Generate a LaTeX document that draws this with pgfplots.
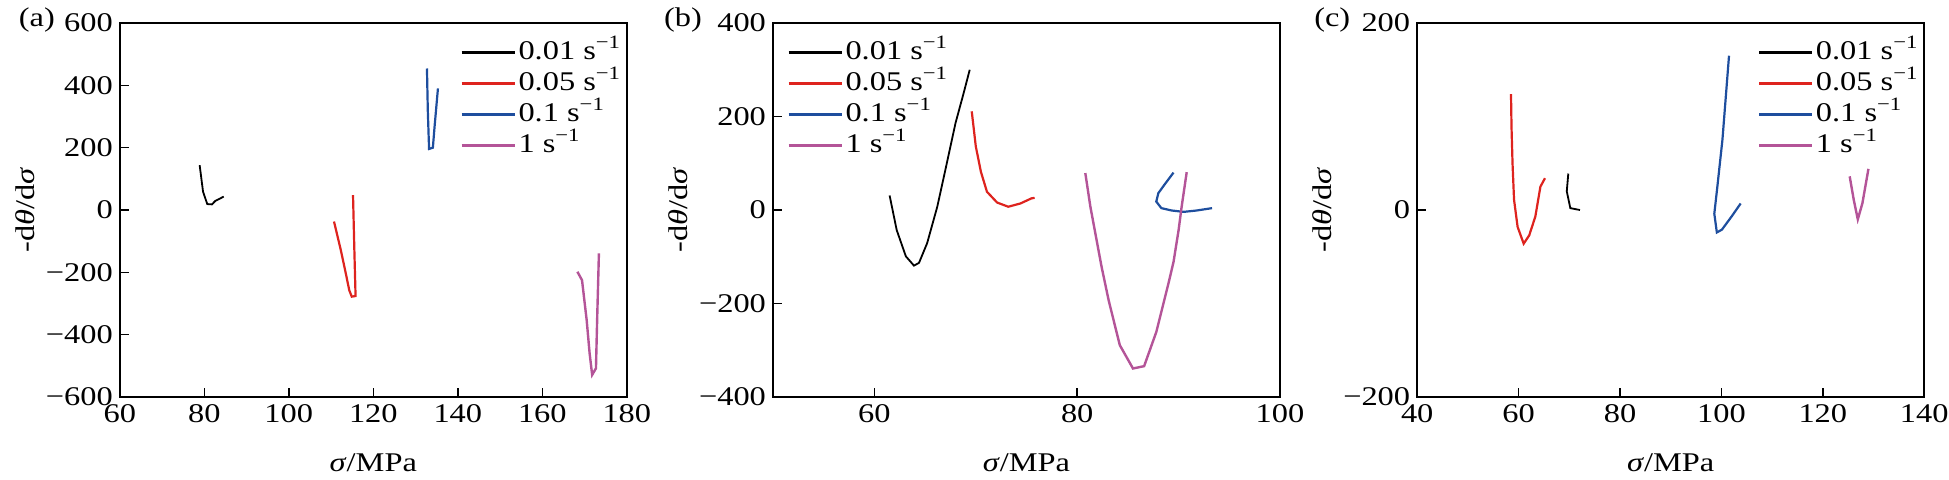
\documentclass[border=0pt]{standalone}
\usepackage{fontspec}
\setmainfont{Liberation Serif}[FakeStretch=1.2]
\usepackage{pgfplots}
\pgfplotsset{compat=1.18}
\definecolor{cRed}{RGB}{222,35,30}
\definecolor{cBlue}{RGB}{30,78,158}
\definecolor{cMag}{RGB}{180,84,152}
\newcommand{\fs}{\fontsize{13.5}{16}\selectfont}
\pgfplotsset{
  legend image code/.code={\draw[#1,line width=1.3pt] (0pt,0pt) -- (26.5pt,0pt);},
  myaxis/.style={
    scale only axis, width=253.5pt, height=187pt,
    axis line style={line width=0.8pt},
    every tick/.style={black, line width=0.8pt},
    major tick length=4.5pt,
    xtick pos=left, ytick pos=left,
    tick align=inside,
    tick label style={font=\fs},
    /pgf/number format/assume math mode=true,
    xlabel={\textit{σ}/MPa},
    ylabel={-d\textit{θ}/d\textit{σ}},
    every axis x label/.style={at={(axis description cs:0.5,-0.176)}, anchor=center, font=\fs},
    every axis y label/.style={at={(axis description cs:-0.187,0.5)}, anchor=center, rotate=90, font=\fs},
    legend cell align=left,
    legend style={draw=none, fill=none, font=\fs, inner sep=0pt, row sep=0pt,
      nodes={inner sep=1.25pt, text height=10pt, text depth=3pt}},
  },
  c1/.style={black, line width=0.9pt},
  c2/.style={cRed, line width=1.1pt},
  c3/.style={cBlue, line width=1.1pt},
  c4/.style={cMag, line width=1.2pt},
}
\begin{document}
\begin{tikzpicture}
\path[use as bounding box] (0,0) rectangle (974.5pt,239.5pt);
% (a)
\begin{axis}[myaxis, name=a, at={(59.9pt,41pt)}, anchor=south west,
  xmin=60, xmax=180, ymin=-600, ymax=600,
  xtick={60,80,...,180},
  ytick={-600,-400,-200,0,200,400,600},
  yticklabels={−600,−400,−200,0,200,400,600},
  legend style={at={(axis description cs:0.671,0.964)}, anchor=north west}]
\addplot[c1] coordinates {(78.9,144)(79.7,59)(80.7,19)(81.8,18)(82.6,29)(84.6,43)};
\addplot[c2] coordinates {(110.7,-37)(112.3,-128)(113.5,-204)(114.3,-257)(114.9,-278)(115.8,-276)(115.5,-120)(115.2,48)};
\addplot[c3] coordinates {(132.7,454)(132.9,320)(133.2,196)(134.1,200)(134.5,267)(135.3,390)};
\addplot[c4] coordinates {(168.3,-198)(169.4,-225)(170.5,-353)(171.2,-460)(171.8,-529)(172.7,-508)(173.0,-342)(173.4,-139)};
\legend{0.01 s\textsuperscript{−1},0.05 s\textsuperscript{−1},0.1 s\textsuperscript{−1},1 s\textsuperscript{−1}}
\end{axis}
\node[font=\fs, anchor=west] at ([xshift=-54pt,yshift=1.5pt]a.north west) {(a)};
% (b)
\begin{axis}[myaxis, name=b, at={(386.5pt,41pt)}, anchor=south west,
  xmin=50, xmax=100, ymin=-400, ymax=400,
  xtick={60,80,100},
  ytick={-400,-200,0,200,400},
  yticklabels={−400,−200,0,200,400},
  legend style={at={(axis description cs:0.0276,0.964)}, anchor=north west}]
\addplot[c1] coordinates {(61.5,31)(62.2,-43)(63.1,-99)(63.9,-119)(64.4,-113)(65.2,-71)(66.2,7)(67.0,86)(68.0,186)(68.8,250)(69.4,300)};
\addplot[c2] coordinates {(69.6,211)(70.0,136)(70.5,82)(71.1,39)(72.1,16)(73.2,7)(74.4,14)(75.5,25)(75.8,26)};
\addplot[c3] coordinates {(89.5,80)(88.7,57)(88.0,36)(87.8,18)(88.3,4)(89.3,-1)(90.5,-4)(91.8,-1)(93.3,4)};
\addplot[c4] coordinates {(80.8,79)(81.3,7)(82.4,-121)(83.1,-193)(84.2,-289)(85.5,-339)(86.6,-334)(87.8,-261)(89.0,-157)(89.5,-111)(90.0,-43)(90.3,7)(90.8,81)};
\legend{0.01 s\textsuperscript{−1},0.05 s\textsuperscript{−1},0.1 s\textsuperscript{−1},1 s\textsuperscript{−1}}
\end{axis}
\node[font=\fs, anchor=west] at ([xshift=-58pt,yshift=1.5pt]b.north west) {(b)};
% (c)
\begin{axis}[myaxis, name=c, at={(708.6pt,41pt)}, anchor=south west,
  xmin=40, xmax=140, ymin=-200, ymax=200,
  xtick={40,60,...,140},
  ytick={-200,0,200},
  yticklabels={−200,0,200},
  legend style={at={(axis description cs:0.671,0.964)}, anchor=north west}]
\addplot[c1] coordinates {(69.8,39)(69.5,20)(70.2,2)(72.1,0)};
\addplot[c2] coordinates {(58.5,124)(58.6,89)(58.8,50)(59.1,11)(59.8,-18)(61.0,-36)(62.1,-27)(63.3,-7)(64.3,25)(65.2,34)};
\addplot[c3] coordinates {(101.5,165)(100.2,75)(99.2,25)(98.6,-4)(99.1,-24)(100.1,-21)(102.0,-7)(103.8,7)};
\addplot[c4] coordinates {(125.3,36)(126.1,11)(126.9,-10)(127.8,7)(129.0,44)};
\legend{0.01 s\textsuperscript{−1},0.05 s\textsuperscript{−1},0.1 s\textsuperscript{−1},1 s\textsuperscript{−1}}
\end{axis}
\node[font=\fs, anchor=west] at ([xshift=-55pt,yshift=1.5pt]c.north west) {(c)};
\end{tikzpicture}
\end{document}
